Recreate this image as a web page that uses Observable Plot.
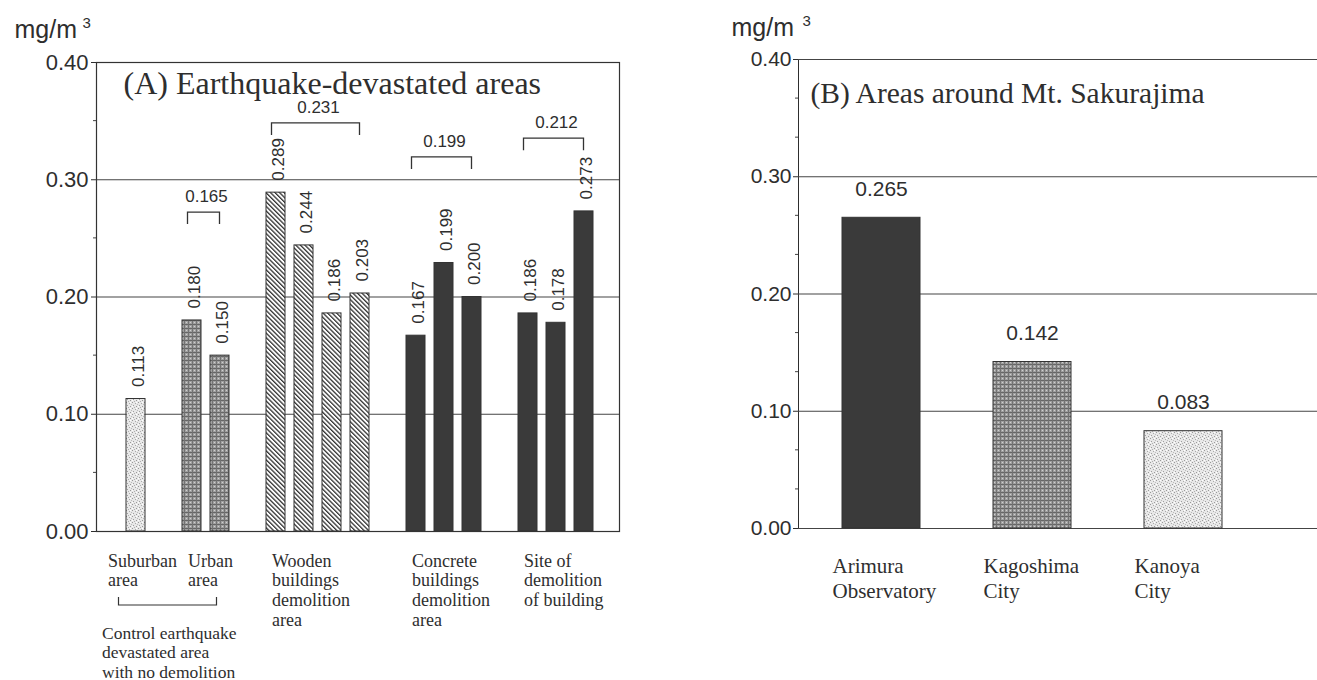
<!DOCTYPE html>
<html><head><meta charset="utf-8">
<script src="https://cdn.jsdelivr.net/npm/d3@7"></script>
<script src="https://cdn.jsdelivr.net/npm/@observablehq/plot@0.6"></script>
<style>
body{margin:0;background:#fff;overflow:hidden;width:1317px;height:680px;position:relative;}
#a{position:absolute;left:0;top:0;}
#b{position:absolute;left:700px;top:0;}
</style></head><body>
<svg width="0" height="0" style="position:absolute"><defs>
<pattern id="pStipple" width="6" height="6" patternUnits="userSpaceOnUse">
  <rect width="6" height="6" fill="#e8e8e8"/>
  <rect x="0" y="0" width="1" height="1" fill="#999"/>
  <rect x="3" y="1" width="1" height="1" fill="#aaa"/>
  <rect x="1" y="3" width="1" height="1" fill="#a0a0a0"/>
  <rect x="4" y="4" width="1" height="1" fill="#999"/>
  <rect x="5" y="2" width="1" height="1" fill="#bbb"/>
  <rect x="2" y="5" width="1" height="1" fill="#b0b0b0"/>
  <rect x="4" y="0" width="1" height="1" fill="#fff"/>
  <rect x="0" y="4" width="1" height="1" fill="#fff"/>
</pattern>
<pattern id="pCross" width="4" height="4" patternUnits="userSpaceOnUse">
  <rect width="4" height="4" fill="#a0a0a0"/>
  <rect width="4" height="1" fill="#666"/>
  <rect width="1" height="4" fill="#737373"/>
  <rect x="2" y="2" width="1" height="1" fill="#d0d0d0"/>
</pattern>
<pattern id="pHatch" width="3.2" height="3.2" patternUnits="userSpaceOnUse" patternTransform="rotate(-45)">
  <rect width="3.2" height="3.2" fill="#fff"/>
  <rect x="0" y="0" width="1.3" height="3.2" fill="#333"/>
</pattern>
</defs></svg>
<div id="a"></div><div id="b"></div>
<script>
// ---------- data ----------
const barIdsA = ["suburban","urban-1","urban-2","wooden-1","wooden-2","wooden-3","wooden-4","concrete-1","concrete-2","concrete-3","site-1","site-2","site-3"];
const barGroupA = ["suburban","urban","urban","wooden","wooden","wooden","wooden","concrete","concrete","concrete","site","site","site"];
const barHeightsA = [0.113,0.180,0.150,0.289,0.244,0.186,0.203,0.167,0.229,0.200,0.186,0.178,0.273];
const barLabelsA = ["0.113","0.180","0.150","0.289","0.244","0.186","0.203","0.167","0.199","0.200","0.186","0.178","0.273"];
const groupLabelsA = ["Suburban\narea","Urban\narea","Wooden\nbuildings\ndemolition\narea","Concrete\nbuildings\ndemolition\narea","Site of\ndemolition\nof building"];
const groupLabelBarA = ["suburban","urban-1","wooden-1","concrete-1","site-1"];
const groupMeansA = [0.165,0.231,0.199,0.212];
const groupMeanBarsA = [["urban-1","urban-2"],["wooden-1","wooden-4"],["concrete-1","concrete-3"],["site-1","site-3"]];
const controlNoteA = "Control earthquake\ndevastated area\nwith no demolition";
const titleA = "(A) Earthquake-devastated areas";

const categoriesB = ["Arimura\nObservatory","Kagoshima\nCity","Kanoya\nCity"];
const valuesB = [0.265,0.142,0.083];
const labelsB = ["0.265","0.142","0.083"];
const titleB = "(B) Areas around Mt. Sakurajima";

const unitText = "mg/m";
const unitSup = "3";
const yTicks = [0,0.1,0.2,0.3,0.4];
const gridValues = [0.1,0.2,0.3];
const minorTicksA = [0.05,0.15,0.25,0.35];
const minorTicksB = [1/30,2/30,4/30,5/30,7/30,8/30,10/30,11/30];

// ---------- styling / layout ----------
const SERIF = "Liberation Serif, Times New Roman, serif";
const SANS = "Liberation Sans, Arial, sans-serif";
const INK = "#2e2e2e";
const DARK = "#3a3a3a";
const fillFor = {suburban:"url(#pStipple)", urban:"url(#pCross)", wooden:"url(#pHatch)", concrete:DARK, site:DARK};
const fillForB = ["#3a3a3a","url(#pCross)","url(#pStipple)"];
const bracketLevelA = [0.272,0.348,0.319,0.335];

const dataA = barIdsA.map((id,i)=>({id, group: barGroupA[i], h: barHeightsA[i], label: barLabelsA[i]}));
const gapAfter = new Set(["suburban","urban-2","wooden-4","concrete-3"]);
const domainA = [];
barIdsA.forEach(id => { domainA.push(id); if (gapAfter.has(id)) domainA.push("gap-" + id); });

const groupLabelRows = groupLabelsA.map((t,i)=>({id: groupLabelBarA[i], text: t}));

function bandCenter(sx, v) {
  const bw = typeof sx.bandwidth === "function" ? sx.bandwidth() : 0;
  return sx(v) + bw / 2;
}
function minorTicks(values) {
  return (index, scales, vals, dims) => {
    const g = d3.create("svg:g").attr("stroke", "#444").attr("stroke-width", 1);
    for (const v of values) {
      const y = scales.y(v);
      g.append("line").attr("x1", dims.marginLeft - 3).attr("x2", dims.marginLeft).attr("y1", y).attr("y2", y);
    }
    return g.node();
  };
}
function bracketsA(index, scales, vals, dims) {
  const g = d3.create("svg:g");
  const sx = scales.x, sy = scales.y;
  groupMeanBarsA.forEach((pair, i) => {
    const x1 = bandCenter(sx, pair[0]) - 4, x2 = bandCenter(sx, pair[1]);
    const y = sy(bracketLevelA[i]);
    g.append("path").attr("d", `M${x1},${y+12}V${y}H${x2}V${y+12}`)
      .attr("fill", "none").attr("stroke", "#333").attr("stroke-width", 1.3);
    g.append("text").attr("x", (x1 + x2) / 2 + 3).attr("y", y - 10)
      .attr("text-anchor", "middle").attr("font-family", SANS).attr("font-size", 17)
      .attr("fill", INK).text(d3.format(".3f")(groupMeansA[i]));
  });
  // bracket under the control areas
  const y0 = sy(0);
  const cx1 = bandCenter(sx, "suburban") - 17, cx2 = bandCenter(sx, "urban-2") - 3;
  g.append("path").attr("d", `M${cx1},${y0+66}V${y0+74}H${cx2}V${y0+66}`)
    .attr("fill", "none").attr("stroke", "#333").attr("stroke-width", 1.2);
  return g.node();
}

const plotA = Plot.plot({
  width: 640, height: 680,
  marginLeft: 96, marginRight: 21, marginTop: 62, marginBottom: 149,
  style: {fontFamily: SANS, fontSize: "22px", color: INK, background: "transparent", overflow: "visible"},
  x: {domain: domainA, paddingInner: 0.317, paddingOuter: 0.81, align: 0.545, axis: null},
  y: {domain: [0, 0.4], ticks: yTicks, tickFormat: d3.format(".2f"), tickSize: 5, tickPadding: 3, label: null},
  color: {type: "identity"},
  marks: [
    Plot.ruleY(gridValues, {stroke: "#444", strokeWidth: 1.1}),
    Plot.barY(dataA, {x: "id", y: "h", fill: d => fillFor[d.group], stroke: "#333", strokeWidth: 1}),
    Plot.text(dataA, {x: "id", y: "h", text: "label", rotate: -90, textAnchor: "start", dy: -12, dx: 3, fontSize: 17, fill: INK, fontFamily: SANS}),
    bracketsA,
    minorTicks(minorTicksA),
    Plot.frame({stroke: "#333", strokeWidth: 1.2}),
    Plot.text([titleA], {frameAnchor: "top-left", textAnchor: "start", lineAnchor: "bottom", dx: 27, dy: 31, fontSize: 32, fontFamily: SERIF, fill: INK}),
    Plot.text(groupLabelRows.filter(d => d.id === "suburban"), {x: "id", y: () => 0, text: "text", textAnchor: "start", lineAnchor: "top", dx: -28, dy: 21, fontSize: 18, lineHeight: 1.1, fontFamily: SERIF, fill: INK}),
    Plot.text(groupLabelRows.filter(d => d.id !== "suburban"), {x: "id", y: () => 0, text: "text", textAnchor: "start", lineAnchor: "top", dx: -4, dy: 21, fontSize: 18, lineHeight: 1.1, fontFamily: SERIF, fill: INK}),
    Plot.text([{id: "suburban", text: controlNoteA}], {x: "id", y: () => 0, text: "text", textAnchor: "start", lineAnchor: "top", dx: -34, dy: 94, fontSize: 17.5, lineHeight: 1.1, fontFamily: SERIF, fill: INK}),
    Plot.text([unitText], {frameAnchor: "top-left", textAnchor: "start", lineAnchor: "bottom", dx: -82, dy: -25, fontSize: 25, fontFamily: SANS, fill: INK}),
    Plot.text([unitSup], {frameAnchor: "top-left", textAnchor: "start", lineAnchor: "bottom", dx: -14, dy: -35, fontSize: 15, fontFamily: SANS, fill: INK})
  ]
});
document.getElementById("a").appendChild(plotA);

const dataB = categoriesB.map((c,i)=>({cat: c, v: valuesB[i], label: labelsB[i], fill: fillForB[i]}));
const plotB = Plot.plot({
  width: 617, height: 680,
  marginLeft: 98, marginRight: 0, marginTop: 59, marginBottom: 152,
  style: {fontFamily: SANS, fontSize: "21px", color: INK, background: "transparent", overflow: "visible"},
  x: {domain: categoriesB, paddingInner: 0.483, paddingOuter: 0.46, align: 0.32, axis: null},
  y: {domain: [0, 0.4], ticks: yTicks, tickFormat: d3.format(".2f"), tickSize: 5, tickPadding: 2, label: null, line: true},
  color: {type: "identity"},
  marks: [
    Plot.ruleY(yTicks, {stroke: "#444", strokeWidth: 1.1}),
    Plot.barY(dataB, {x: "cat", y: "v", fill: "fill", stroke: "#333", strokeWidth: 1}),
    Plot.text(dataB, {x: "cat", y: "v", text: "label", lineAnchor: "bottom", dy: -22, fontSize: 21, fontFamily: SANS, fill: INK}),
    minorTicks(minorTicksB),
    Plot.text(dataB, {x: "cat", y: () => 0, text: "cat", textAnchor: "start", lineAnchor: "top", dx: -49, dy: 27, fontSize: 21, lineHeight: 1.19, fontFamily: SERIF, fill: INK}),
    Plot.text([titleB], {frameAnchor: "top-left", textAnchor: "start", lineAnchor: "bottom", dx: 12, dy: 43, fontSize: 29.5, fontFamily: SERIF, fill: INK}),
    Plot.text([unitText], {frameAnchor: "top-left", textAnchor: "start", lineAnchor: "bottom", dx: -67, dy: -24, fontSize: 25, fontFamily: SANS, fill: INK}),
    Plot.text([unitSup], {frameAnchor: "top-left", textAnchor: "start", lineAnchor: "bottom", dx: 4, dy: -34, fontSize: 15, fontFamily: SANS, fill: INK})
  ]
});
document.getElementById("b").appendChild(plotB);
</script>
</body></html>
